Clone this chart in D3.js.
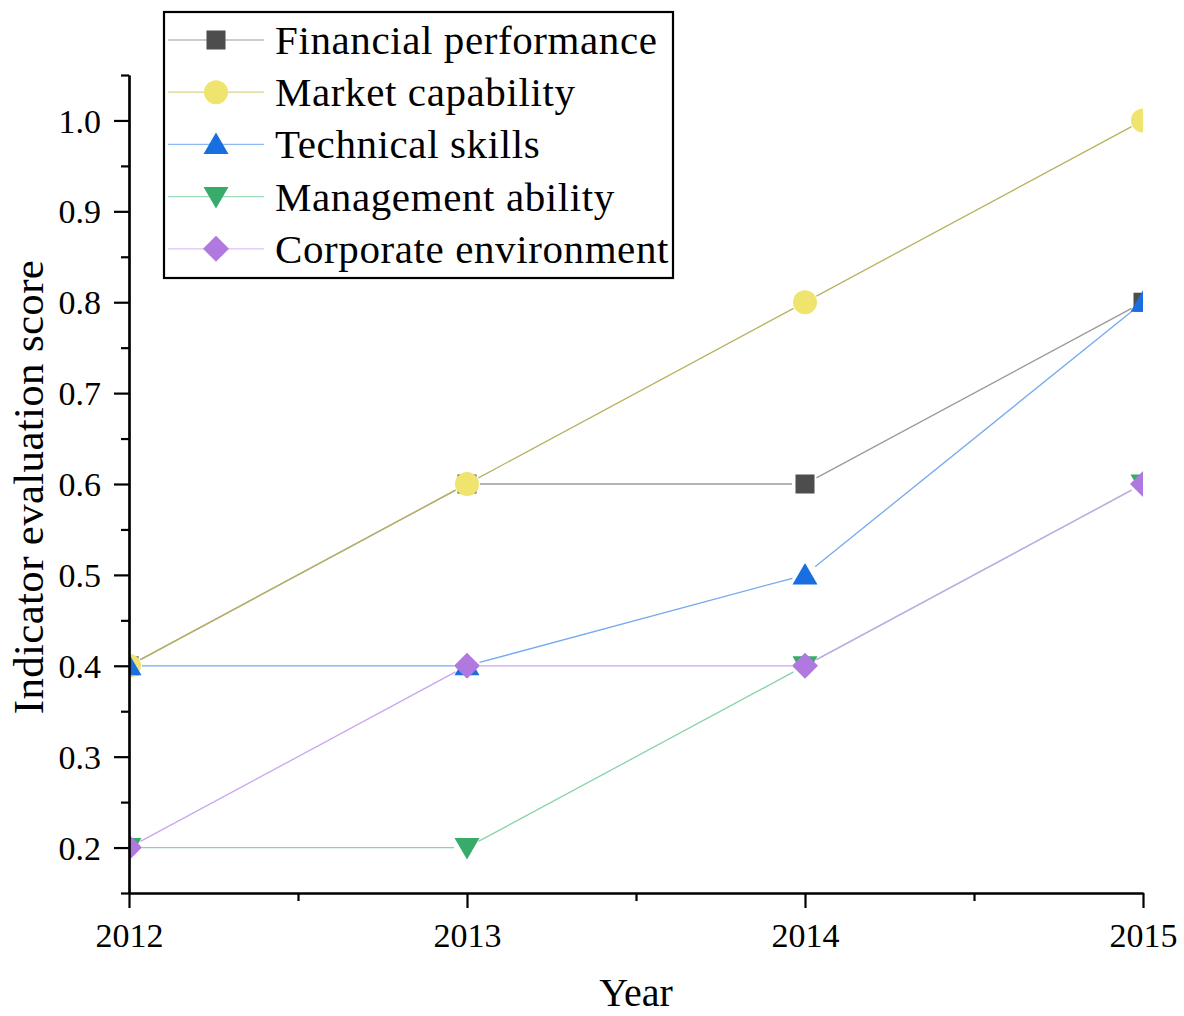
<!DOCTYPE html>
<html><head><meta charset="utf-8">
<script src="https://cdn.jsdelivr.net/npm/d3@7/dist/d3.min.js"></script>
<style>
body{margin:0;background:#fff;}
text{font-family:"Liberation Serif","Times New Roman",serif;fill:#000;}
</style></head>
<body><svg id="c" width="1184" height="1016"></svg>
<script>
const years = [2012, 2013, 2014, 2015];
const seriesNames = ["Financial performance","Market capability","Technical skills","Management ability","Corporate environment"];
const financial = [0.4, 0.6, 0.6, 0.8];
const market = [0.4, 0.6, 0.8, 1.0];
const technical = [0.4, 0.4, 0.5, 0.8];
const management = [0.2, 0.2, 0.4, 0.6];
const corporate = [0.2, 0.4, 0.4, 0.6];
const yTicks = [0.2,0.3,0.4,0.5,0.6,0.7,0.8,0.9,1.0];
const yMinorTicks = [0.15,0.25,0.35,0.45,0.55,0.65,0.75,0.85,0.95,1.05];
const xMinorTicks = [2012.5,2013.5,2014.5];

const series = [
  {name:seriesNames[0], values:financial, line:"#9a9a9a", legLine:"#bdbdbd", fill:"#4d4d4d", shape:"square"},
  {name:seriesNames[1], values:market, line:"#b8b260", legLine:"#d6d28c", fill:"#efe46e", shape:"circle"},
  {name:seriesNames[2], values:technical, line:"#74a9f0", legLine:"#8dbaf2", fill:"#1a6fe0", shape:"triangle"},
  {name:seriesNames[3], values:management, line:"#86d4a8", legLine:"#9edcb8", fill:"#38ab6a", shape:"down"},
  {name:seriesNames[4], values:corporate, line:"#c9a6ef", legLine:"#dcc2f4", fill:"#b079e0", shape:"diamond"}
];

const svg = d3.select("#c");
const x = d3.scaleLinear().domain([2012, 2015]).range([129, 1143]);
const y = d3.scaleLinear().domain([0.15, 1.05]).range([893, 75]);

function marker(sel, shape){
  if(shape==="square") sel.append("rect").attr("x",-9.5).attr("y",-9.5).attr("width",19).attr("height",19);
  else if(shape==="circle") sel.append("circle").attr("r",12);
  else if(shape==="triangle") sel.append("path").attr("d","M0,-12L12.5,9.5L-12.5,9.5Z");
  else if(shape==="down") sel.append("path").attr("d","M0,12L12.5,-9.5L-12.5,-9.5Z");
  else if(shape==="diamond") sel.append("path").attr("d","M0,-13L13,0L0,13L-13,0Z");
}

svg.append("defs").append("clipPath").attr("id","clip").append("rect")
  .attr("x",129).attr("y",60).attr("width",1014).attr("height",833);

const plot = svg.append("g").attr("clip-path","url(#clip)");
const gap = 13;
series.forEach(s=>{
  const g = plot.append("g");
  for(let i=0;i<years.length-1;i++){
    const x1=x(years[i]), y1=y(s.values[i]), x2=x(years[i+1]), y2=y(s.values[i+1]);
    const dx=x2-x1, dy=y2-y1, L=Math.hypot(dx,dy), ux=dx/L, uy=dy/L;
    g.append("line").attr("x1",x1+ux*gap).attr("y1",y1+uy*gap)
      .attr("x2",x2-ux*gap).attr("y2",y2-uy*gap)
      .attr("stroke",s.line).attr("stroke-width",1.3);
  }
});
series.forEach(s=>{
  years.forEach((yr,i)=>{
    const m = plot.append("g").attr("transform",`translate(${x(yr)},${y(s.values[i])})`).attr("fill",s.fill);
    marker(m, s.shape);
  });
});

// axes
const yAxis = svg.append("g").attr("transform","translate(129,0)")
  .call(d3.axisLeft(y).tickValues(yTicks).tickFormat(d3.format(".1f")).tickSize(15).tickSizeOuter(0));
const yMinor = svg.append("g").attr("transform","translate(129,0)")
  .call(d3.axisLeft(y).tickValues(yMinorTicks).tickFormat("").tickSize(8).tickSizeOuter(0));
const xAxis = svg.append("g").attr("transform","translate(0,893)")
  .call(d3.axisBottom(x).tickValues(years).tickFormat(d3.format("d")).tickSize(15).tickSizeOuter(0));
const xMinor = svg.append("g").attr("transform","translate(0,893)")
  .call(d3.axisBottom(x).tickValues(xMinorTicks).tickFormat("").tickSize(8).tickSizeOuter(0));
[yAxis,yMinor,xAxis,xMinor].forEach(a=>{
  a.selectAll("path.domain").attr("stroke","#000").attr("stroke-width",2.2);
  a.selectAll(".tick line").attr("stroke","#000").attr("stroke-width",2.2);
});
yAxis.selectAll(".tick text").attr("font-size",34).attr("x",-28).attr("dy","0.34em")
  .style("font-family","'Liberation Serif',serif");
xAxis.selectAll(".tick text").attr("font-size",34).attr("y",30).attr("dy","0.71em")
  .style("font-family","'Liberation Serif',serif");

svg.append("text").attr("x",636).attr("y",1006).attr("text-anchor","middle").attr("font-size",40).text("Year");
svg.append("text").attr("transform","translate(43,487) rotate(-90)").attr("text-anchor","middle")
  .attr("font-size",43).attr("letter-spacing",0.3).text("Indicator evaluation score");

// legend
const leg = svg.append("g");
leg.append("rect").attr("x",164).attr("y",12).attr("width",509).attr("height",266)
  .attr("fill","#fff").attr("stroke","#000").attr("stroke-width",2.2);
series.forEach((s,i)=>{
  const cy = 40 + i*52.2;
  leg.append("line").attr("x1",168).attr("x2",264).attr("y1",cy).attr("y2",cy).attr("stroke",s.legLine).attr("stroke-width",1.3);
  const m = leg.append("g").attr("transform",`translate(216,${cy})`).attr("fill",s.fill);
  marker(m, s.shape);
  leg.append("text").attr("x",275).attr("y",cy+14).attr("font-size",41).attr("letter-spacing",0.6).text(s.name);
});
</script></body></html>
